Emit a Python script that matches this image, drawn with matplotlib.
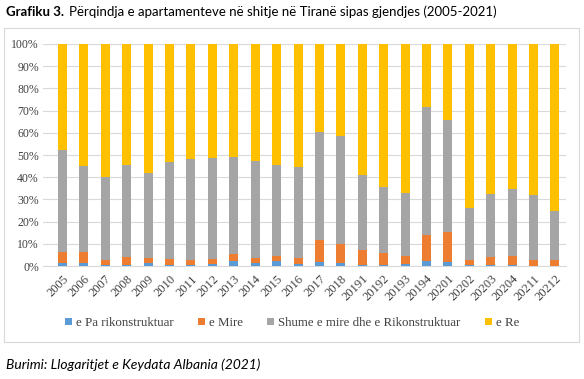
import matplotlib
matplotlib.use("Agg")
import matplotlib.pyplot as plt
import numpy as np
from matplotlib.patches import Rectangle

# Categories (year / year+quarter)
periods = ['2005', '2006', '2007', '2008', '2009', '2010', '2011', '2012',
           '2013', '2014', '2015', '2016', '2017', '2018',
           '20191', '20192', '20193', '20194',
           '20201', '20202', '20203', '20204', '20211', '20212']

# shares in percent
pa_rikonstruktuar = [1.5, 1.5, 0.5, 0.5, 1.5, 0.7, 0.5, 1.0, 2.1, 1.6, 2.2, 0.9,
                     1.8, 1.3, 0.7, 0.3, 1.0, 2.1, 2.0, 0.3, 0.3, 0.3, 0.2, 0.2]
mire = [4.8, 4.8, 2.2, 3.5, 2.2, 2.3, 2.2, 2.3, 3.4, 2.1, 2.3, 2.7,
        9.8, 8.5, 6.7, 5.6, 3.4, 11.7, 13.2, 2.6, 3.9, 4.1, 2.7, 2.5]
# cumulative top of the grey segment
grey_top = [52.2, 45.0, 40.0, 45.3, 42.0, 46.7, 48.3, 48.8, 49.2, 47.3, 45.6, 44.7,
            60.2, 58.6, 41.0, 35.8, 33.0, 71.8, 65.8, 26.0, 32.4, 34.5, 32.0, 24.6]

pa = np.array(pa_rikonstruktuar)
mi = np.array(mire)
shume = np.array(grey_top) - pa - mi
re_ = 100 - np.array(grey_top)

series = [('e Pa rikonstruktuar', pa, '#5B9BD5'),
          ('e Mire', mi, '#ED7D31'),
          ('Shume e mire dhe e Rikonstruktuar', shume, '#A5A5A5'),
          ('e Re', re_, '#FFC000')]

fig = plt.figure(figsize=(5.84, 3.79), dpi=100)
ax = fig.add_axes([0.0736, 0.298, 0.8954, 0.586])

x = np.arange(len(periods))
bottom = np.zeros(len(periods))
for name, vals, col in series:
    ax.bar(x, vals / 100, bottom=bottom / 100, width=0.42, color=col, label=name, zorder=3)
    bottom += vals

ax.set_ylim(0, 1)
ax.set_xlim(-0.91, 23.51)
ax.set_yticks(np.arange(0, 1.01, 0.1))
ax.set_yticklabels(['%d%%' % v for v in range(0, 101, 10)],
                   family='Liberation Serif', fontsize=8.5, color='#404040')
ax.set_xticks(x)
ax.set_xticklabels(periods, rotation=45, ha='right', rotation_mode='anchor',
                   family='Liberation Serif', fontsize=9, color='#404040')
ax.tick_params(length=0, pad=3)
ax.tick_params(axis='x', pad=5)
ax.grid(axis='y', color='#D9D9D9', lw=0.8, zorder=0)
for s in ['top', 'right', 'left']:
    ax.spines[s].set_visible(False)
ax.spines['bottom'].set_color('#D9D9D9')

leg = fig.legend(loc='center', bbox_to_anchor=(0.5, 1 - 323 / 379), ncol=4, frameon=False,
                 prop={'family': 'Liberation Serif', 'size': 9.3},
                 handlelength=0.55, handleheight=0.55, handletextpad=0.3, columnspacing=1.9)
for t in leg.get_texts():
    t.set_color('#404040')

# outer chart border
fig.patches.append(Rectangle((4 / 584, 1 - 342 / 379), 575 / 584, 314 / 379,
                             transform=fig.transFigure, fill=False,
                             edgecolor='#D9D9D9', lw=0.8))

fig.text(6 / 584, 1 - 12 / 379, 'Grafiku 3.', fontsize=9.5, family='Lato',
         weight='bold', va='center', ha='left')
fig.text(69 / 584, 1 - 12 / 379, 'Përqindja e apartamenteve në shitje në Tiranë sipas gjendjes (2005-2021)',
         fontsize=9.5, family='Lato', va='center', ha='left')
fig.text(6 / 584, 1 - 365 / 379, 'Burimi: Llogaritjet e Keydata Albania (2021)',
         fontsize=10, family='Lato', style='italic', va='center', ha='left')

fig.savefig('out.png', dpi=100)
